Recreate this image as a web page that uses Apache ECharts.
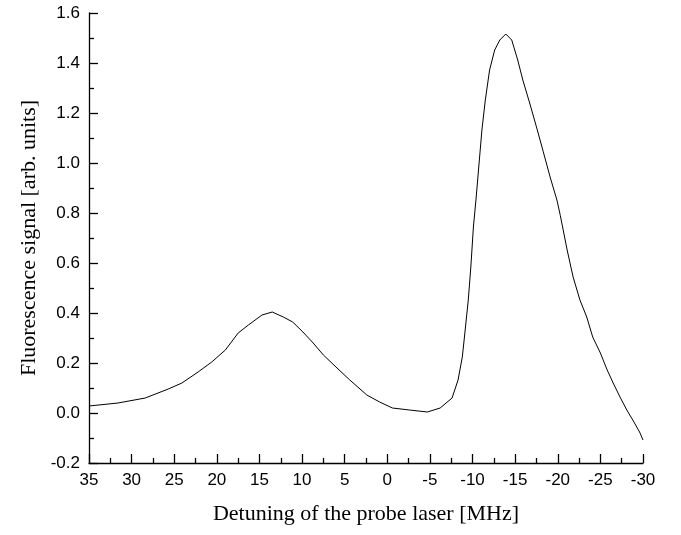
<!DOCTYPE html>
<html>
<head>
<meta charset="utf-8">
<script src="https://cdn.jsdelivr.net/npm/echarts@6/dist/echarts.min.js"></script>
<style>html,body{margin:0;padding:0;background:#fff;}#c{width:681px;height:535px;}</style>
</head>
<body>
<div id="c"></div>
<script>
const detuning = [35.0,31.6,28.4,25.7,24.1,22.2,20.6,19.0,17.5,16.3,14.7,13.5,12.2,11.1,9.9,8.7,7.5,5.9,4.4,2.4,0.9,-0.6,-2.6,-4.7,-6.2,-7.6,-8.3,-8.8,-9.1,-9.5,-9.8,-10.1,-10.4,-10.6,-11.1,-11.5,-12.0,-12.6,-13.2,-13.9,-14.6,-15.3,-15.9,-16.7,-17.6,-18.3,-19.1,-19.9,-20.3,-21.1,-21.8,-22.6,-23.4,-24.1,-25.0,-25.8,-26.5,-27.3,-28.1,-28.8,-29.6,-30.0];
const signal = [0.028,0.040,0.060,0.096,0.120,0.164,0.204,0.252,0.320,0.352,0.392,0.404,0.384,0.364,0.324,0.280,0.232,0.180,0.132,0.072,0.044,0.020,0.012,0.004,0.020,0.060,0.132,0.224,0.320,0.452,0.584,0.744,0.852,0.932,1.132,1.252,1.372,1.452,1.492,1.516,1.492,1.412,1.332,1.240,1.132,1.045,0.944,0.852,0.790,0.652,0.544,0.452,0.384,0.304,0.240,0.172,0.120,0.064,0.012,-0.028,-0.076,-0.108];
const xTitle = 'Detuning of the probe laser [MHz]';
const yTitle = 'Fluorescence signal [arb. units]';

const chart = echarts.init(document.getElementById('c'));
const axisCommon = {
  axisLine: {show: true, onZero: false, lineStyle: {color: '#000', width: 1.3}},
  axisTick: {show: true, inside: true, length: 9, lineStyle: {color: '#000', width: 1.3}},
  minorTick: {show: true, splitNumber: 2, length: 5, lineStyle: {color: '#000', width: 1.3}},
  splitLine: {show: false},
  axisLabel: {color: '#000', fontFamily: 'Liberation Sans, Arial, sans-serif', fontSize: 17},
  nameTextStyle: {color: '#000', fontFamily: 'Liberation Serif, Times New Roman, serif', fontSize: 22}
};
chart.setOption({
  animation: false,
  backgroundColor: '#fff',
  grid: {left: 89, right: 38, top: 13, bottom: 72, containLabel: false},
  xAxis: Object.assign({}, axisCommon, {
    type: 'value', inverse: true, min: -30, max: 35, interval: 5,
    position: 'bottom',
    name: xTitle, nameLocation: 'middle', nameGap: 40,
    axisLabel: Object.assign({}, axisCommon.axisLabel, {margin: 9})
  }),
  yAxis: Object.assign({}, axisCommon, {
    type: 'value', min: -0.2, max: 1.6, interval: 0.2,
    position: 'left',
    name: yTitle, nameLocation: 'middle', nameGap: 48,
    axisLabel: Object.assign({}, axisCommon.axisLabel, {margin: 9, formatter: v => v.toFixed(1)})
  }),
  series: [{
    type: 'line',
    data: detuning.map((d, i) => [d, signal[i]]),
    showSymbol: false,
    lineStyle: {color: '#000', width: 1},
    smooth: false
  }]
});
</script>
</body>
</html>
